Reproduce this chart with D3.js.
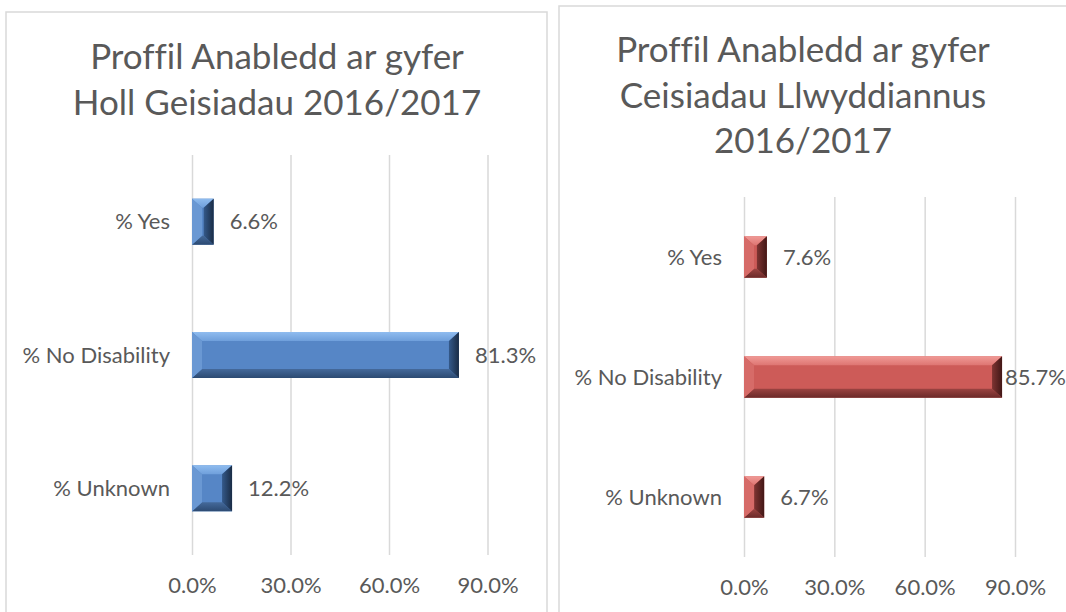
<!DOCTYPE html>
<html>
<head>
<meta charset="utf-8">
<script src="https://cdn.jsdelivr.net/npm/d3@7"></script>
<style>
  body { margin: 0; background: #fff; }
  svg { display: block; font-family: Lato, "Open Sans", sans-serif; font-variant-ligatures: none; }
</style>
</head>
<body>
<script>
const categories = ['% Yes', '% No Disability', '% Unknown'];
const allApplicants = [0.066, 0.813, 0.122];
const successfulApplicants = [0.076, 0.857, 0.067];
const tickValues = [0, 0.3, 0.6, 0.9];
const titleAll = ['Proffil Anabledd ar gyfer', 'Holl Geisiadau 2016/2017'];
const titleSuccess = ['Proffil Anabledd ar gyfer', 'Ceisiadau Llwyddiannus', '2016/2017'];

const W = 1066, H = 612;
const textColor = '#595959';

const svg = d3.select('body').
append('svg').
attr('width', W).
attr('height', H);

const defs = svg.append('defs');

// bevel shades for each colour: face, top, left, bottom, right
const blueShades = { face: '#5686c6', top: ['#8fbcef', '#6f9fdb'], left: '#6a98d3', bottom: ['#44699a', '#2c4a72'], right: ['#34598a', '#1a2c45'] };
const redShades = { face: '#cd5b58', top: ['#f09a96', '#de7572'], left: '#d66b68', bottom: ['#9b4341', '#6b2a29'], right: ['#7e3432', '#421716'] };

let gradId = 0;
let grad = (c0, c1, vertical) => {
  const id = 'g' + gradId++;
  const g = defs.append('linearGradient').attr('id', id).
  attr('x1', 0).attr('y1', 0).
  attr('x2', vertical ? 0 : 1).attr('y2', vertical ? 1 : 0);
  g.append('stop').attr('offset', '0%').attr('stop-color', c0);
  g.append('stop').attr('offset', '100%').attr('stop-color', c1);
  return 'url(#' + id + ')';
};

let drawPanel = (cfg) => {
  // panel frame
  svg.append('rect').
  attr('x', cfg.frame[0]).
  attr('y', cfg.frame[1]).
  attr('width', cfg.frame[2]).
  attr('height', cfg.frame[3]).
  attr('fill', '#fff').
  attr('stroke', '#d9d9d9').
  attr('stroke-width', 1.5);

  // title
  const title = svg.append('text').
  attr('text-anchor', 'middle').
  attr('fill', textColor).
  style('font-size', '35px');
  cfg.title.forEach((line, i) => {
    title.append('tspan').
    attr('x', cfg.titleX).
    attr('y', cfg.titleY + i * cfg.titleStep).
    text(line);
  });

  const x = d3.scaleLinear().domain([0, 0.9]).range([cfg.x0, cfg.x1]);
  const y = d3.scaleBand().domain(categories).range([cfg.y0, cfg.y1]).
  paddingInner(0.655).paddingOuter(0.3275);

  // gridlines
  svg.append('g').
  attr('transform', 'translate(0,' + cfg.y1 + ')').
  call(d3.axisBottom(x).tickValues(tickValues).tickSize(-(cfg.y1 - cfg.y0)).tickFormat('')).
  call(g => g.select('.domain').remove()).
  call(g => g.selectAll('.tick line').attr('stroke', '#d9d9d9').attr('stroke-width', 1.5));

  // tick labels
  svg.append('g').
  attr('transform', 'translate(0,' + cfg.tickY + ')').
  call(d3.axisBottom(x).tickValues(tickValues).tickSize(0).tickFormat(d3.format('.1%'))).
  call(g => g.select('.domain').remove()).
  call(g => g.selectAll('.tick text').
  attr('fill', textColor).
  attr('dy', '0.35em').
  attr('y', 0).
  style('font-size', '22px').
  style('font-family', 'Lato, sans-serif'));

  // category labels
  svg.append('g').
  selectAll('text').
  data(categories).
  enter().
  append('text').
  attr('x', cfg.x0 - 22).
  attr('y', d => y(d) + y.bandwidth() / 2).
  attr('dy', '0.35em').
  attr('text-anchor', 'end').
  attr('fill', textColor).
  style('font-size', '22px').
  text(d => d);

  // bevelled bars
  const s = cfg.shades;
  const topFill = grad(s.top[0], s.top[1], true);
  const bottomFill = grad(s.bottom[0], s.bottom[1], true);
  const rightFill = grad(s.right[0], s.right[1], false);
  const bars = svg.append('g');
  cfg.values.forEach((v, i) => {
    const bx0 = x(0), bx1 = x(v);
    const by0 = y(categories[i]), by1 = by0 + y.bandwidth();
    const bw = Math.min(10, (bx1 - bx0) / 2);
    const bh = 9;
    const g = bars.append('g');
    g.append('rect').attr('x', bx0).attr('y', by0).
    attr('width', bx1 - bx0).attr('height', by1 - by0).attr('fill', s.face);
    const poly = (pts, fill) => g.append('polygon').
    attr('points', pts.map(p => p.join(',')).join(' ')).
    attr('fill', fill);
    poly([[bx0, by0], [bx1, by0], [bx1 - bw, by0 + bh], [bx0 + bw, by0 + bh]], topFill);
    poly([[bx0, by1], [bx1, by1], [bx1 - bw, by1 - bh], [bx0 + bw, by1 - bh]], bottomFill);
    poly([[bx0, by0], [bx0 + bw, by0 + bh], [bx0 + bw, by1 - bh], [bx0, by1]], s.left);
    poly([[bx1, by0], [bx1 - bw, by0 + bh], [bx1 - bw, by1 - bh], [bx1, by1]], rightFill);
  });

  // data labels
  svg.append('g').
  selectAll('text').
  data(cfg.values).
  enter().
  append('text').
  attr('y', (d, i) => y(categories[i]) + y.bandwidth() / 2).
  attr('dy', '0.35em').
  attr('fill', textColor).
  style('font-size', '22px').
  text(d => d3.format('.1%')(d)).
  attr('x', function (d) {
    const wText = this.getComputedTextLength();
    return Math.min(x(d) + 16, cfg.labelLimit - wText);
  });
};

drawPanel({
  frame: [6, 12, 541, 640],
  title: titleAll, titleX: 277, titleY: 69, titleStep: 46,
  x0: 192, x1: 487.5, y0: 155, y1: 555, tickY: 585,
  values: allApplicants, shades: blueShades, labelLimit: 545
});

drawPanel({
  frame: [559, 6, 520, 640],
  title: titleSuccess, titleX: 803, titleY: 62, titleStep: 45.5,
  x0: 744, x1: 1015, y0: 197, y1: 557, tickY: 587,
  values: successfulApplicants, shades: redShades, labelLimit: 1066
});
</script>
</body>
</html>
